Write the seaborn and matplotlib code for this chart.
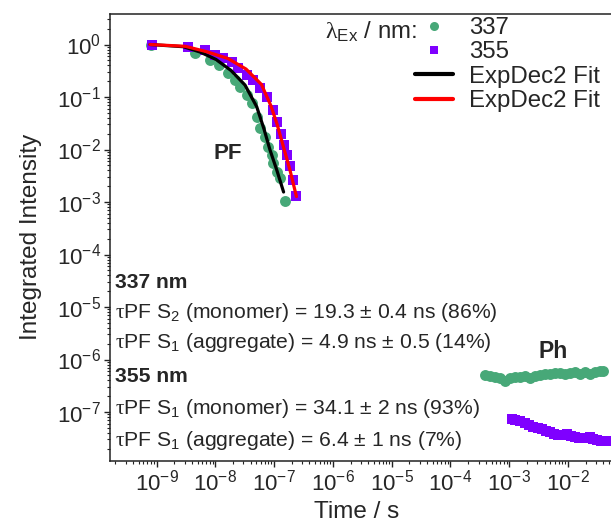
import numpy as np
import pandas as pd
import matplotlib
matplotlib.use("Agg")
import matplotlib.pyplot as plt
from matplotlib.ticker import FixedLocator, LogFormatterSciNotation, NullFormatter
from matplotlib.lines import Line2D
import seaborn as sns

# ---------------- data ----------------
pf337_t = [0.80e-9, 4.5e-9, 8.1e-9, 11.6e-9, 16.6e-9, 21.6e-9, 26.3e-9, 34.2e-9, 41.6e-9,
           50.6e-9, 57.5e-9, 70e-9, 79.6e-9, 91e-9, 97e-9, 111e-9, 126e-9, 153e-9]
pf337_I = [1.0, 0.68, 0.507, 0.407, 0.283, 0.211, 0.157, 0.109, 0.0759,
           0.042, 0.0253, 0.0175, 0.0113, 0.00785, 0.00546, 0.00378, 0.00283, 0.00105]

pf355_t = [0.83e-9, 3.47e-9, 6.68e-9, 9.88e-9, 13.7e-9, 19.0e-9, 24.6e-9, 34.2e-9, 44.3e-9,
           57.6e-9, 74.8e-9, 96.9e-9, 112e-9, 131e-9, 150e-9, 169e-9, 190e-9, 212e-9, 238e-9]
pf355_I = [1.0, 0.908, 0.786, 0.631, 0.546, 0.470, 0.352, 0.262, 0.211,
           0.1465, 0.1014, 0.0565, 0.0334, 0.0197, 0.0122, 0.00786, 0.00485, 0.00263, 0.0013]

fit337_t = [7.75e-10, 2.86e-9, 5.49e-9, 1.03e-8, 1.85e-8, 3.20e-8, 5.06e-8, 6.73e-8, 8.52e-8, 1.11e-7, 1.45e-7]
fit337_I = [1.0, 0.908, 0.720, 0.518, 0.320, 0.169, 0.0653, 0.0246, 0.00978, 0.00407, 0.00155]

fit355_t = [7.75e-10, 3.09e-9, 7.14e-9, 1.64e-8, 3.33e-8, 6.10e-8, 8.86e-8, 1.12e-7, 1.43e-7, 1.86e-7, 2.40e-7]
fit355_I = [1.0, 0.924, 0.729, 0.541, 0.341, 0.173, 0.0674, 0.0306, 0.01166, 0.00407, 0.00127]

ph337_t = [3.86e-4, 4.70e-4, 5.72e-4, 6.95e-4, 8.45e-4, 1.03e-3, 1.25e-3, 1.52e-3, 1.85e-3,
           2.25e-3, 2.74e-3, 3.33e-3, 4.05e-3, 4.92e-3, 5.98e-3, 7.28e-3, 8.85e-3, 1.08e-2,
           1.31e-2, 1.59e-2, 1.94e-2, 2.36e-2, 2.86e-2, 3.49e-2, 3.93e-2]
ph337_I = [5.07e-7, 4.85e-7, 4.65e-7, 4.45e-7, 3.89e-7, 4.45e-7, 4.65e-7, 4.65e-7, 4.85e-7,
           4.45e-7, 4.85e-7, 5.07e-7, 5.30e-7, 5.30e-7, 5.53e-7, 5.53e-7, 5.30e-7, 5.53e-7,
           5.78e-7, 5.30e-7, 5.78e-7, 5.30e-7, 5.78e-7, 6.04e-7, 6.04e-7]

ph355_t = [1.10e-3, 1.25e-3, 1.52e-3, 1.85e-3, 2.18e-3, 2.56e-3, 3.05e-3, 3.56e-3, 4.20e-3,
           4.92e-3, 5.80e-3, 6.81e-3, 8.00e-3, 9.46e-3, 1.11e-2, 1.31e-2, 1.55e-2, 1.81e-2,
           2.08e-2, 2.36e-2, 2.70e-2, 3.06e-2, 3.60e-2, 4.25e-2, 4.90e-2]
ph355_I = [7.3e-8, 7.04e-8, 6.6e-8, 6.1e-8, 5.7e-8, 5.25e-8, 5.0e-8, 4.74e-8, 4.4e-8,
           4.1e-8, 3.85e-8, 3.65e-8, 3.7e-8, 3.76e-8, 3.55e-8, 3.39e-8, 3.25e-8, 3.15e-8,
           3.22e-8, 3.3e-8, 3.1e-8, 2.93e-8, 2.85e-8, 2.8e-8, 2.75e-8]

x_major = [1e-9, 1e-8, 1e-7, 1e-6, 1e-5, 1e-4, 1e-3, 1e-2]
y_major = [1e-7, 1e-6, 1e-5, 1e-4, 1e-3, 1e-2, 1e-1, 1e0]

legend_labels = ["337", "355", "ExpDec2 Fit", "ExpDec2 Fit"]
annot_lines = [
    ("337 nm", True),
    (r"$\mathrm{\tau}$PF S$_{\mathsf{2}}$ (monomer) = 19.3 ± 0.4 ns (86%)", False),
    (r"$\mathrm{\tau}$PF S$_{\mathsf{1}}$ (aggregate) = 4.9 ns ± 0.5 (14%)", False),
    ("355 nm", True),
    (r"$\mathrm{\tau}$PF S$_{\mathsf{1}}$ (monomer) = 34.1 ± 2 ns (93%)", False),
    (r"$\mathrm{\tau}$PF S$_{\mathsf{1}}$ (aggregate) = 6.4 ± 1 ns (7%)", False),
]

GREEN = "#47a878"
VIOLET = "#7f00ff"

# ---------------- style ----------------
sns.set_theme(style="ticks")
plt.rcParams["font.family"] = ["Liberation Sans", "DejaVu Sans"]
plt.rcParams["mathtext.fontset"] = "custom"
plt.rcParams["mathtext.rm"] = "Liberation Serif"
plt.rcParams["mathtext.sf"] = "Liberation Sans"
plt.rcParams["mathtext.it"] = "Liberation Sans:italic"
plt.rcParams["mathtext.bf"] = "Liberation Sans:bold"

W, H = 611, 524
fig = plt.figure(figsize=(W / 100, H / 100), dpi=100)
AX_L, AX_R, AX_T, AX_B = 110, 621, 14, 461
ax = fig.add_axes([AX_L / W, 1 - AX_B / H, (AX_R - AX_L) / W, (AX_B - AX_T) / H])

def px(x, y):
    return x / W, 1 - y / H

# ---------------- marks ----------------
df337 = pd.DataFrame({"t": pf337_t + ph337_t, "I": pf337_I + ph337_I})
df355 = pd.DataFrame({"t": pf355_t + ph355_t, "I": pf355_I + ph355_I})
sns.scatterplot(data=df337, x="t", y="I", marker="o", s=62, color=GREEN,
                linewidth=0, ax=ax, zorder=2)
sns.scatterplot(data=df355, x="t", y="I", marker="s", s=50, color=VIOLET,
                linewidth=0, ax=ax, zorder=2)
sns.lineplot(x=fit337_t, y=fit337_I, color="black", linewidth=2.3, ax=ax, zorder=3)
sns.lineplot(x=fit355_t, y=fit355_I, color="red", linewidth=2.3, ax=ax, zorder=3)

ax.set_xscale("log")
ax.set_yscale("log")
ax.set_xlim(10 ** -9.791, 10 ** -1.1)
ax.set_ylim(10 ** -7.933, 10 ** 0.581)

def minors(majors, lo, hi):
    vals = []
    for m in [majors[0] / 10] + list(majors):
        for k in range(2, 10):
            v = m * k
            if lo < v < hi:
                vals.append(v)
    return vals

ax.xaxis.set_major_locator(FixedLocator(x_major))
ax.yaxis.set_major_locator(FixedLocator(y_major))
ax.xaxis.set_major_formatter(LogFormatterSciNotation())
ax.yaxis.set_major_formatter(LogFormatterSciNotation())
ax.xaxis.set_minor_locator(FixedLocator(minors(x_major, *ax.get_xlim())))
ax.yaxis.set_minor_locator(FixedLocator(minors(y_major, *ax.get_ylim())))
ax.xaxis.set_minor_formatter(NullFormatter())
ax.yaxis.set_minor_formatter(NullFormatter())

for side in ["left", "bottom", "top", "right"]:
    ax.spines[side].set_linewidth(1.1)
    ax.spines[side].set_color("#222222")
ax.tick_params(which="major", direction="out", length=4.5, width=1.0, color="#222222",
               labelsize=16, pad=2, top=False, right=False)
ax.tick_params(which="minor", direction="out", length=2.5, width=0.8, color="#222222",
               top=False, right=False)

ax.set_xlabel("Time / s", fontsize=17.5, va="bottom")
ax.set_ylabel("Integrated Intensity", fontsize=17.5, va="center")
ax.xaxis.set_label_coords((357 - AX_L) / (AX_R - AX_L), -(523 - AX_B) / (AX_B - AX_T))
ax.yaxis.set_label_coords(-(AX_L - 31) / (AX_R - AX_L), (AX_B - 237) / (AX_B - AX_T))

# ---------------- legend ----------------
handles = [
    Line2D([], [], marker="o", linestyle="none", markersize=6.5, color=GREEN, markeredgewidth=0),
    Line2D([], [], marker="s", linestyle="none", markersize=5.5, color=VIOLET, markeredgewidth=0),
    Line2D([], [], color="black", linewidth=3),
    Line2D([], [], color="red", linewidth=3),
]
leg = fig.legend(handles, legend_labels, loc="upper left", bbox_to_anchor=px(415, 17),
                 frameon=False, fontsize=17.3, handlelength=1.58, handletextpad=0.67,
                 labelspacing=0.1, borderpad=0, borderaxespad=0)
fig.text(*px(325, 32), r"$\mathrm{\lambda}_{\mathsf{Ex}}$ / nm:", fontsize=17.3,
         ha="left", va="center")

# ---------------- annotations ----------------
fig.text(*px(227.5, 153.5), "PF", fontsize=16, fontweight="bold", ha="center", va="center")
fig.text(*px(553, 352), "Ph", fontsize=16.5, fontweight="bold", ha="center", va="center")
ys = [283, 313, 343, 377, 408, 440]
for (txt, bold), y in zip(annot_lines, ys):
    fig.text(*px(115, y), txt, fontsize=15.2, fontweight="bold" if bold else "normal",
             ha="left", va="center")

fig.savefig("out.png", dpi=100)
